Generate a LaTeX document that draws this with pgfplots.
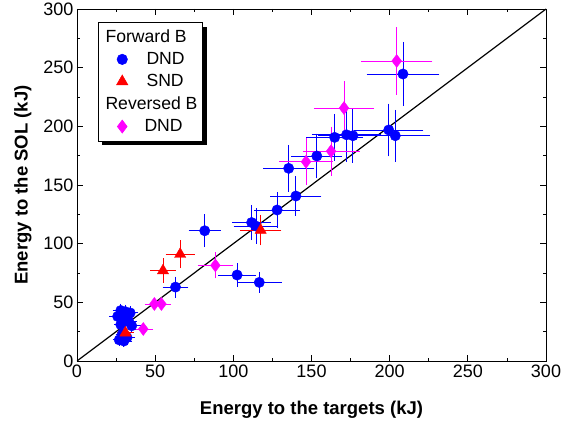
\documentclass[border=0pt]{standalone}
\usepackage{pgfplots}
\pgfplotsset{compat=1.18}
\usepackage{pgfplotstable}
\usepackage{fontspec}
\setmainfont{Liberation Sans}
\usetikzlibrary{shadows}

\definecolor{dblue}{RGB}{0,0,255}
\definecolor{dred}{RGB}{255,0,0}
\definecolor{dpink}{RGB}{255,0,255}

% forward B, DND
\pgfplotstableread{
x y ex ey
26 38 3 3
28 43 3 3
31 42 3 3
34 41 3 3
30 36 3 3
33 34 3 3
28 31 2 3
35 30 4 3
27 18 2 2
30 17 3 2
32 20 3 3
29 23 2 2
63 63 6 6
81.7 111 8 11
102.4 73.3 10 7
116.6 67 12 6
111.7 118 10 12
114.5 115 12 12
128 128.7 12.5 12
140 140.6 14 14
135.4 164.2 14 17
153.4 174.7 14 16
164.8 190.6 16 17
172.4 192.8 20 20
176.5 192 20 20
199.4 196.9 20 19.5
203.6 192 20 19
208.5 244.6 21 24.5
}\fwddnd

% forward B, SND
\pgfplotstableread{
x y ex ey
31 24 3 3
55 77 6 7.5
66 91 7 9
117.5 111.5 11 10
}\fwdsnd

% reversed B, DND
\pgfplotstableread{
x y ex ey
42.4 27.3 4 2
49.5 48.6 4 2
54 48.6 4 2
88.5 81.5 9 8
146.5 169.8 15 17
162.5 178.8 16 18
170.8 215.6 17 20
204.5 255.7 20.5 25.6
}\revdnd

\begin{document}
\begin{tikzpicture}
\begin{axis}[
    name=ax,
    width=469pt, height=352pt, scale only axis,
    xmin=0, xmax=300, ymin=0, ymax=300,
    xtick={0,50,...,300}, ytick={0,50,...,300},
    minor x tick num=1, minor y tick num=1,
    tick align=inside,
    major tick length=6pt, minor tick length=3pt,
    tick style={black, line width=0.8pt},
    axis line style={line width=0.9pt},
    ticklabel style={font=\fontsize{18}{21}\selectfont},
    /pgf/number format/assume math mode=true,
    xlabel={\bfseries Energy to the targets (kJ)},
    ylabel={\bfseries Energy to the SOL (kJ)},
    label style={font=\fontsize{18.5}{21}\selectfont},
    xlabel style={yshift=-17pt},
    ylabel style={yshift=5pt},
    legend style={
        at={(0.044,0.963)}, anchor=north west,
        draw=black, line width=0.6pt,
        font=\fontsize{17.6}{21}\selectfont,
        drop shadow={shadow xshift=4.5pt, shadow yshift=-4.5pt, fill=black, opacity=1},
        row sep=4.5pt, inner ysep=5.5pt,
    },
    legend cell align=left,
    legend image code/.code={%
        \path (-21pt,0pt) (12pt,0pt);
        \draw[mark repeat=2,mark phase=2,#1] plot coordinates {(-21pt,0pt) (0pt,0pt) (12pt,0pt)};
    },
    error bars/error bar style={line width=0.9pt},
    error bars/error mark options={line width=0.9pt, mark size=3.5pt},
]
\addplot[black, line width=1.2pt, forget plot] coordinates {(0,0) (300,300)};

\addlegendimage{empty legend}
\addlegendentry{\hspace{-31pt}Forward B}

\addplot[only marks, mark=*, mark size=5.2pt, color=dblue,
    error bars/.cd, x dir=both, x explicit, y dir=both, y explicit]
    table[x=x, y=y, x error=ex, y error=ey] {\fwddnd};
\addlegendentry{\hspace{10pt}DND}

\addplot[only marks, mark=triangle*, mark size=6.5pt, color=dred,
    error bars/.cd, x dir=both, x explicit, y dir=both, y explicit]
    table[x=x, y=y, x error=ex, y error=ey] {\fwdsnd};
\addlegendentry{\hspace{10pt}SND}

\addlegendimage{empty legend}
\addlegendentry{\hspace{-31pt}Reversed B\hspace{8pt}}

\addplot[only marks, mark=diamond*, mark size=6.5pt, color=dpink,
    error bars/.cd, x dir=both, x explicit, y dir=both, y explicit]
    table[x=x, y=y, x error=ex, y error=ey] {\revdnd};
\addlegendentry{\hspace{8pt}DND}
\end{axis}
\pgfresetboundingbox
\path[use as bounding box] ([xshift=-77pt,yshift=-59pt]ax.south west) rectangle ([xshift=18pt,yshift=9pt]ax.north east);
\end{tikzpicture}
\end{document}
